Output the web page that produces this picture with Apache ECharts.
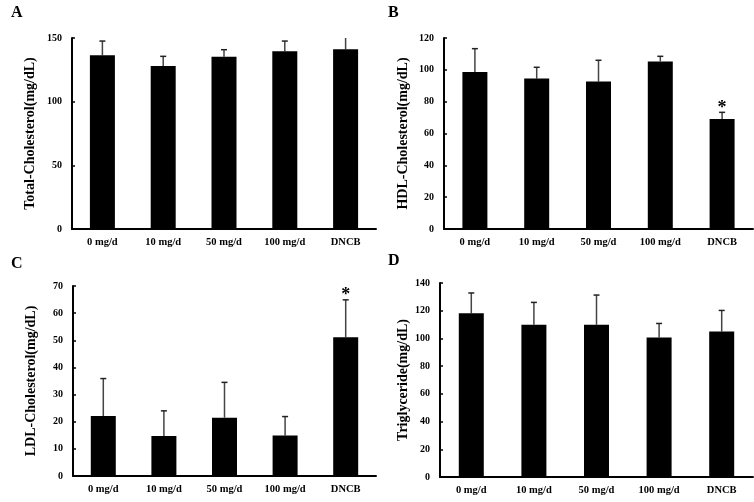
<!DOCTYPE html>
<html><head><meta charset="utf-8">
<script src="https://cdn.jsdelivr.net/npm/echarts@6/dist/echarts.min.js"></script>
<style>html,body{margin:0;padding:0;background:#fff}#c{width:754px;height:502px}</style>
</head><body><div id="c"></div>
<script>
// ---- data ----
const categories = ['0 mg/d', '10 mg/d', '50 mg/d', '100 mg/d', 'DNCB'];

const totalMean = [136.4, 128.0, 135.3, 139.5, 141.1];
const totalSD   = [11.2, 7.6, 5.5, 8.1, 11.0];
const totalSig  = ['', '', '', '', ''];

const hdlMean = [98.6, 94.5, 92.6, 105.3, 69.1];
const hdlSD   = [14.7, 7.1, 13.4, 3.2, 4.2];
const hdlSig  = ['', '', '', '', '*'];

const ldlMean = [22.1, 14.7, 21.5, 14.9, 51.1];
const ldlSD   = [13.8, 9.3, 13.0, 7.0, 13.8];
const ldlSig  = ['', '', '', '', '*'];

const tgMean = [118.1, 109.9, 109.9, 100.7, 105.0];
const tgSD   = [14.7, 16.1, 21.4, 10.1, 15.2];
const tgSig  = ['', '', '', '', ''];

const panelLetters = ['A', 'B', 'C', 'D'];
const yNames = ['Total-Cholesterol(mg/dL)', 'HDL-Cholesterol(mg/dL)', 'LDL-Cholesterol(mg/dL)', 'Triglyceride(mg/dL)'];
const yMax = [150, 120, 70, 140];
const yInterval = [50, 20, 10, 20];

// ---- chart ----
const FONT = '"Liberation Serif", "Times New Roman", serif';
const panels = [
  {mean: totalMean, sd: totalSD, sig: totalSig},
  {mean: hdlMean, sd: hdlSD, sig: hdlSig},
  {mean: ldlMean, sd: ldlSD, sig: ldlSig},
  {mean: tgMean, sd: tgSD, sig: tgSig}
];
const grids = [
  {left: 72, right: 378, top: 38, bottom: 273},
  {left: 444, right: 1, top: 38, bottom: 273},
  {left: 73, right: 378, top: 286, bottom: 26},
  {left: 440, right: 1, top: 283, bottom: 25}
];
const nameGaps = [35, 34, 35, 30];
const letterPos = [[11, 5], [388, 5], [11, 256], [388, 253]];

const xAxis = [], yAxis = [], series = [], graphic = [];
panels.forEach((p, k) => {
  xAxis.push({
    type: 'category', gridIndex: k, data: categories,
    axisLine: {lineStyle: {color: '#000', width: 2}},
    axisTick: {show: false},
    axisLabel: {color: '#000', fontFamily: FONT, fontWeight: 'bold', fontSize: 10.5, margin: 8}
  });
  yAxis.push({
    type: 'value', gridIndex: k, min: 0, max: yMax[k], interval: yInterval[k],
    name: yNames[k], nameLocation: 'middle', nameGap: nameGaps[k], nameRotate: 90,
    nameTextStyle: {color: '#000', fontFamily: FONT, fontWeight: 'bold', fontSize: 14},
    axisLine: {show: true, lineStyle: {color: '#000', width: 2}},
    axisTick: {show: true, inside: true, length: 3, lineStyle: {color: '#000', width: 1.5}},
    splitLine: {show: false},
    axisLabel: {color: '#000', fontFamily: FONT, fontWeight: 'bold', fontSize: 10, margin: 10}
  });
  series.push({
    type: 'bar', xAxisIndex: k, yAxisIndex: k, data: p.mean, barWidth: 25,
    itemStyle: {color: '#000'}, silent: true, animation: false
  });
  const sigArr = p.sig;
  series.push({
    type: 'custom', xAxisIndex: k, yAxisIndex: k, clip: true, animation: false, silent: true,
    data: p.mean.map((m, i) => [i, m, p.sd[i]]),
    encode: {x: 0, y: 1},
    renderItem: function (params, api) {
      const i = api.value(0), m = api.value(1), s = api.value(2);
      const base = api.coord([i, m]);
      const top = api.coord([i, m + s]);
      const children = [
        {type: 'line', shape: {x1: base[0], y1: base[1], x2: top[0], y2: top[1]},
         style: {stroke: '#444', lineWidth: 1.5}},
        {type: 'line', shape: {x1: top[0] - 3, y1: top[1], x2: top[0] + 3, y2: top[1]},
         style: {stroke: '#222', lineWidth: 1.5}}
      ];
      const sg = sigArr[params.dataIndex];
      if (sg) {
        children.push({type: 'text', style: {text: sg, x: top[0], y: top[1] - 4,
          align: 'center', verticalAlign: 'middle', fill: '#000',
          font: 'bold 18px ' + FONT}});
      }
      return {type: 'group', children: children};
    }
  });
  graphic.push({
    type: 'text', left: letterPos[k][0], top: letterPos[k][1],
    style: {text: panelLetters[k], fill: '#000', font: 'bold 16px ' + FONT}
  });
});

const chart = echarts.init(document.getElementById('c'), null, {renderer: 'canvas'});
chart.setOption({
  backgroundColor: '#fff',
  animation: false,
  grid: grids,
  xAxis: xAxis,
  yAxis: yAxis,
  series: series,
  graphic: graphic
});
</script>
</body></html>
